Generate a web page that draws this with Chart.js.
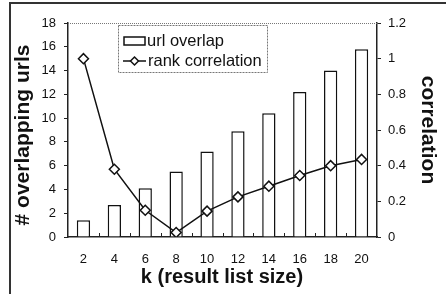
<!DOCTYPE html>
<html>
<head>
<meta charset="utf-8">
<script src="https://cdn.jsdelivr.net/npm/chart.js@4/dist/chart.umd.min.js"></script>
<style>
  html, body { margin: 0; padding: 0; background: #fff; }
  #chart { display: block; }
</style>
</head>
<body>
<canvas id="chart" width="446" height="294"></canvas>
<script>
// ---- data ----
const kLabels = ['2', '4', '6', '8', '10', '12', '14', '16', '18', '20'];
const urlOverlap = [1.4, 2.7, 4.1, 5.5, 7.2, 8.9, 10.4, 12.2, 14.0, 15.8];
const rankCorrelation = [1.0, 0.38, 0.15, 0.025, 0.145, 0.225, 0.285, 0.345, 0.40, 0.435];
const leftTicks = [0, 2, 4, 6, 8, 10, 12, 14, 16, 18];
const rightTicks = [0, 0.2, 0.4, 0.6, 0.8, 1, 1.2];

const FONT = '"Liberation Sans", Arial, sans-serif';
Chart.defaults.font.family = FONT;
Chart.defaults.color = '#111';

// frame, legend, titles and inward x ticks
const decorations = {
    id: 'decorations',
    afterDraw(chart) {
        const ctx = chart.ctx;
        const area = chart.chartArea;
        const barSet = chart.data.datasets.find(d => d.type === 'bar');
        const lineSet = chart.data.datasets.find(d => d.type === 'line');
        ctx.save();

        // outer frame (left + top)
        ctx.strokeStyle = '#333';
        ctx.lineWidth = 2;
        ctx.beginPath();
        ctx.moveTo(10, 294);
        ctx.lineTo(10, 3);
        ctx.lineTo(446, 3);
        ctx.stroke();

        // dotted top edge of plot
        ctx.strokeStyle = '#777';
        ctx.lineWidth = 1;
        ctx.setLineDash([1, 1]);
        ctx.beginPath();
        ctx.moveTo(area.left, area.top + 0.5);
        ctx.lineTo(area.right, area.top + 0.5);
        ctx.stroke();

        // small ticks on x axis between categories (pointing up)
        ctx.setLineDash([]);
        ctx.strokeStyle = '#222';
        const xs = chart.scales.x;
        const step = (xs.right - xs.left) / kLabels.length;
        ctx.beginPath();
        for (let i = 1; i < kLabels.length; i++) {
            const px = Math.round(xs.left + i * step) + 0.5;
            ctx.moveTo(px, area.bottom);
            ctx.lineTo(px, area.bottom - 4);
        }
        ctx.stroke();

        // legend box
        const lx = 118, ly = 25, lw = 149, lh = 47;
        ctx.fillStyle = '#fff';
        ctx.fillRect(lx, ly, lw, lh);
        ctx.strokeStyle = '#777';
        ctx.setLineDash([2, 1]);
        ctx.strokeRect(lx + 0.5, ly + 0.5, lw, lh);
        ctx.setLineDash([]);

        ctx.fillStyle = '#111';
        ctx.font = '16.5px ' + FONT;
        ctx.textBaseline = 'middle';
        ctx.textAlign = 'left';
        // bar sample
        ctx.strokeStyle = '#111';
        ctx.lineWidth = 1.5;
        ctx.strokeRect(124, 37, 21, 8);
        ctx.fillText(barSet.label, 147, 41);
        // line sample
        ctx.beginPath();
        ctx.moveTo(123, 61);
        ctx.lineTo(146, 61);
        ctx.stroke();
        ctx.fillStyle = '#fff';
        ctx.beginPath();
        ctx.moveTo(134.5, 57);
        ctx.lineTo(138.5, 61);
        ctx.lineTo(134.5, 65);
        ctx.lineTo(130.5, 61);
        ctx.closePath();
        ctx.fill();
        ctx.stroke();
        ctx.fillStyle = '#111';
        ctx.fillText(lineSet.label, 148, 61);

        // axis titles
        ctx.font = 'bold 20px ' + FONT;
        ctx.textAlign = 'center';
        ctx.fillText('k (result list size)', 222, 277);

        ctx.font = 'bold 21px ' + FONT;
        ctx.save();
        ctx.translate(23, (area.top + area.bottom) / 2 + 5);
        ctx.rotate(-Math.PI / 2);
        ctx.fillText('# overlapping urls', 0, 0);
        ctx.restore();

        ctx.save();
        ctx.translate(428, (area.top + area.bottom) / 2);
        ctx.rotate(Math.PI / 2);
        ctx.fillText('correlation', 0, 0);
        ctx.restore();

        ctx.restore();
    }
};

new Chart(document.getElementById('chart'), {
    data: {
        labels: kLabels,
        datasets: [
            {
                type: 'line',
                label: 'rank correlation',
                data: rankCorrelation,
                yAxisID: 'y1',
                borderColor: '#111',
                borderWidth: 1.5,
                pointStyle: 'rectRot',
                pointRadius: 5,
                pointBackgroundColor: '#fff',
                pointBorderColor: '#111',
                pointBorderWidth: 1.5,
                tension: 0,
                order: 0
            },
            {
                type: 'bar',
                label: 'url overlap',
                data: urlOverlap,
                yAxisID: 'y',
                backgroundColor: '#fff',
                borderColor: '#111',
                borderWidth: 1.5,
                barPercentage: 0.43,
                categoryPercentage: 1,
                order: 1
            }
        ]
    },
    options: {
        responsive: false,
        animation: false,
        layout: { padding: { top: 23, left: 0, right: 0, bottom: 0 } },
        plugins: {
            legend: { display: false },
            tooltip: { enabled: false }
        },
        scales: {
            x: {
                offset: true,
                grid: { display: false },
                border: { color: '#222', width: 1.5 },
                ticks: { font: { size: 13 }, padding: 7, color: '#111' },
                afterFit(scale) { scale.height = 57; }
            },
            y: {
                position: 'left',
                min: 0,
                max: 18,
                afterBuildTicks(scale) { scale.ticks = leftTicks.map(v => ({ value: v })); },
                grid: { drawOnChartArea: false, tickLength: 4, color: '#222' },
                border: { color: '#222', width: 1.5 },
                ticks: { font: { size: 13 }, padding: 8, color: '#111' },
                afterFit(scale) { scale.width = 68; }
            },
            y1: {
                position: 'right',
                min: 0,
                max: 1.2,
                afterBuildTicks(scale) { scale.ticks = rightTicks.map(v => ({ value: v })); },
                grid: { drawOnChartArea: false, tickLength: 4, color: '#222' },
                border: { color: '#222', width: 1.5 },
                ticks: {
                    font: { size: 13 },
                    padding: 7,
                    color: '#111',
                    callback: v => String(Math.round(v * 10) / 10)
                },
                afterFit(scale) { scale.width = 69; }
            }
        }
    },
    plugins: [decorations]
});
</script>
</body>
</html>
